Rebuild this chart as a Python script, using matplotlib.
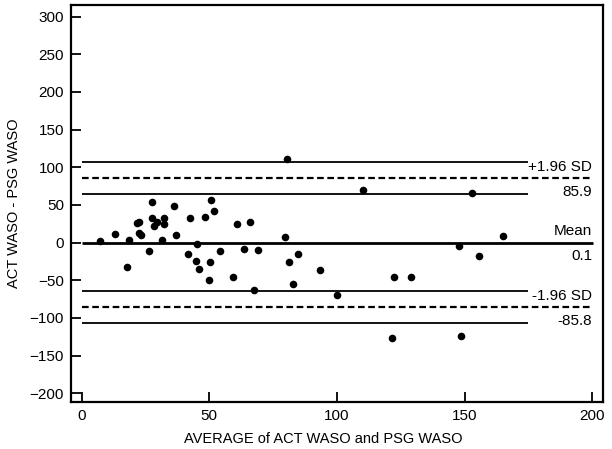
import matplotlib
matplotlib.use("Agg")
import matplotlib.pyplot as plt

plt.rcParams['font.family'] = ['Liberation Sans', 'DejaVu Sans']

avg_waso = [7.2, 13.2, 18.5, 17.9, 21.6, 22.3, 22.3, 23.4, 26.5, 27.5,
            27.5, 28.4, 29.4, 31.5, 32.3, 32.3, 36.1, 37.1, 41.5, 42.5,
            45.1, 44.9, 45.8, 48.3, 50.1, 50.0, 50.7, 52.0, 54.2, 59.3,
            61.0, 63.7, 65.8, 67.4, 68.9, 80.3, 79.7, 84.6, 81.3, 82.9,
            93.4, 100.2, 110.1, 122.5, 129.0, 121.5, 152.8, 165.2, 148.0, 155.8,
            148.5]
diff_waso = [1.9, 12.0, 4.0, -32.7, 25.8, 27.9, 12.9, 9.8, -11.0, 53.7,
             32.4, 22.2, 27.1, 3.2, 33.2, 24.5, 48.4, 9.8, -15.4, 32.4,
             -2.0, -23.9, -34.6, 34.4, -25.3, -50.3, 56.1, 42.2, -11.4, -46.0,
             24.9, -8.8, 26.9, -62.9, -9.7, 110.4, 7.2, -15.0, -26.1, -55.3,
             -36.3, -69.5, 69.7, -45.6, -45.6, -126.7, 65.2, 8.9, -4.8, -18.1,
             -124.1]

mean_diff = 0.1
upper_loa = 85.9
lower_loa = -85.8
upper_loa_ci = [64.9, 106.9]
lower_loa_ci = [-106.8, -64.8]

x_ticks = [0, 50, 100, 150, 200]
y_ticks = [-200, -150, -100, -50, 0, 50, 100, 150, 200, 250, 300]

fig = plt.figure(figsize=(6.12, 4.49), dpi=100)
ax = fig.add_axes([0.116, 0.104, 0.986 - 0.116, 0.989 - 0.104])

ax.set_xlim(-4.2, 204.4)
ax.set_ylim(-212, 315.5)

# CI lines (thin, shorter)
for v in upper_loa_ci + lower_loa_ci:
    ax.plot([0, 175], [v, v], color='black', lw=1.3, solid_capstyle='butt')
# Limits of agreement (dashed)
for v in [upper_loa, lower_loa]:
    ax.plot([0, 200], [v, v], color='black', lw=1.6, dashes=(3, 1.6))
# Mean line
ax.plot([0, 200.4], [mean_diff, mean_diff], color='black', lw=2.0, solid_capstyle='butt')

ax.scatter(avg_waso, diff_waso, s=30, color='black', zorder=3, linewidths=0)

fs = 10.5
afs = 11
ax.annotate('+1.96 SD', (200, upper_loa), xytext=(0, 3), textcoords='offset points',
            ha='right', va='bottom', fontsize=afs)
ax.annotate(f'{upper_loa:.1f}', (200, upper_loa), xytext=(0, -5), textcoords='offset points',
            ha='right', va='top', fontsize=afs)
ax.annotate('Mean', (200, mean_diff), xytext=(0, 3), textcoords='offset points',
            ha='right', va='bottom', fontsize=afs)
ax.annotate(f'{mean_diff:.1f}', (200, mean_diff), xytext=(0, -5), textcoords='offset points',
            ha='right', va='top', fontsize=afs)
ax.annotate('-1.96 SD', (200, lower_loa), xytext=(0, 3), textcoords='offset points',
            ha='right', va='bottom', fontsize=afs)
ax.annotate(f'{lower_loa:.1f}', (200, lower_loa), xytext=(0, -5), textcoords='offset points',
            ha='right', va='top', fontsize=afs)

ax.set_xticks(x_ticks)
ax.set_yticks(y_ticks)
ax.tick_params(direction='in', length=7, width=1.3, labelsize=11, pad=5,
               top=False, right=False)
for sp in ax.spines.values():
    sp.set_linewidth(1.6)

ax.set_xlabel('AVERAGE of ACT WASO and PSG WASO', fontsize=fs, labelpad=4)
ax.set_ylabel('ACT WASO - PSG WASO', fontsize=fs, labelpad=6)
ax.xaxis.set_label_coords(0.474, -0.075)

fig.savefig('out.png', dpi=100)
